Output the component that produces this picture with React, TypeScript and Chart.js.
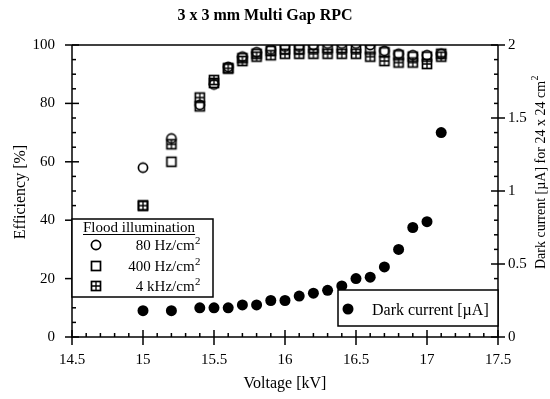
import React, { useEffect, useRef } from 'react';
import { Chart, registerables } from 'chart.js';

Chart.register(...registerables);

// ---- data ----
const voltages = [15.0, 15.2, 15.4, 15.5, 15.6, 15.7, 15.8, 15.9, 16.0, 16.1, 16.2, 16.3, 16.4, 16.5, 16.6, 16.7, 16.8, 16.9, 17.0, 17.1];
const eff80Hz = [58, 68, 79.5, 86.5, 92.5, 96, 97.5, 98.5, 99.5, 99.5, 100, 100.5, 100.5, 100.5, 100, 98, 97, 96.5, 96.5, 97];
const eff400Hz = [45, 60, 79, 87, 92, 95.5, 97, 98, 98.5, 98.5, 99, 99, 99, 99, 98.5, 97.5, 96.5, 96, 96, 97];
const eff4kHz = [45, 66, 82, 88, 92, 94.5, 96, 96.5, 97, 97, 97, 97, 97, 97, 96, 94.5, 94, 94, 93.5, 96];
const darkCurrent = [0.18, 0.18, 0.2, 0.2, 0.2, 0.22, 0.22, 0.25, 0.25, 0.28, 0.3, 0.32, 0.35, 0.4, 0.41, 0.48, 0.6, 0.75, 0.79, 1.4];

const chartTitle = '3 x 3 mm Multi Gap RPC';
const xTitle = 'Voltage [kV]';
const yTitle = 'Efficiency [%]';
const y2Title = 'Dark current [\u00B5A] for 24 x 24 cm';
const floodTitle = 'Flood illumination';
const floodLabels = ['80 Hz/cm', '400 Hz/cm', '4 kHz/cm'];
const darkLabel = 'Dark current [\u00B5A]';

const FONT = '"Liberation Serif", "Times New Roman", serif';

function makeMarker(kind: string): HTMLCanvasElement {
  const c = document.createElement('canvas');
  c.width = 14;
  c.height = 14;
  const ctx = c.getContext('2d')!;
  ctx.strokeStyle = '#000';
  ctx.lineWidth = 1.7;
  if (kind === 'circle') {
    ctx.beginPath();
    ctx.arc(7, 7, 4.6, 0, Math.PI * 2);
    ctx.stroke();
  } else if (kind === 'square') {
    ctx.strokeRect(2.5, 2.5, 9, 9);
  } else {
    ctx.strokeRect(2.5, 2.5, 9, 9);
    ctx.lineWidth = 1.3;
    ctx.beginPath();
    ctx.moveTo(7, 3);
    ctx.lineTo(7, 11);
    ctx.moveTo(3, 7);
    ctx.lineTo(11, 7);
    ctx.stroke();
  }
  return c;
}

function textWithSup(ctx: CanvasRenderingContext2D, base: string, sup: string, xRight: number, y: number, size: number) {
  ctx.font = `${size}px ${FONT}`;
  const wb = ctx.measureText(base).width;
  ctx.font = `${size * 0.72}px ${FONT}`;
  const ws = ctx.measureText(sup).width;
  const x0 = xRight - wb - ws;
  ctx.textAlign = 'left';
  ctx.textBaseline = 'alphabetic';
  ctx.font = `${size}px ${FONT}`;
  ctx.fillText(base, x0, y);
  ctx.font = `${size * 0.72}px ${FONT}`;
  ctx.fillText(sup, x0 + wb + 0.5, y - size * 0.38);
}

const fmt = (v: any) => String(+Number(v).toFixed(2));

const framePlugin = {
  id: 'frame',
  afterDraw(chart: any) {
    const ctx: CanvasRenderingContext2D = chart.ctx;
    const { left, right, top, bottom } = chart.chartArea;
    const xs = chart.scales.x;
    const ys = chart.scales.y;
    const y2s = chart.scales.y2;
    ctx.save();
    ctx.strokeStyle = '#000';
    ctx.fillStyle = '#000';
    ctx.lineWidth = 1.5;
    const line = (x1: number, y1: number, x2: number, y2: number) => {
      ctx.beginPath();
      ctx.moveTo(x1, y1);
      ctx.lineTo(x2, y2);
      ctx.stroke();
    };
    // frame
    line(left, top, right, top);
    line(left, top, left, bottom);
    line(right, top, right, bottom);
    line(left - 1, bottom, right + 1, bottom);
    // x ticks
    for (let i = 0; i <= 30; i++) {
      const v = 14.5 + i * 0.1;
      const px = xs.getPixelForValue(v);
      if (i % 5 === 0) line(px, bottom - 7, px, bottom + 8);
      else line(px, bottom - 4, px, bottom);
    }
    // left ticks
    for (let i = 0; i <= 20; i++) {
      const py = ys.getPixelForValue(i * 5);
      if (i % 4 === 0) line(left - 7, py, left + 7, py);
      else line(left, py, left + 4, py);
    }
    // right ticks
    for (let i = 0; i <= 20; i++) {
      const py = y2s.getPixelForValue(i * 0.1);
      if (i % 5 === 0) line(right - 7, py, right + 7, py);
      else line(right - 4, py, right, py);
    }

    // flood illumination legend
    const bx = left, by = 219, bw = 141, bh = 78;
    ctx.fillStyle = '#fff';
    ctx.fillRect(bx, by, bw, bh);
    ctx.strokeRect(bx, by, bw, bh);
    ctx.fillStyle = '#000';
    ctx.font = `15px ${FONT}`;
    ctx.textAlign = 'left';
    ctx.textBaseline = 'alphabetic';
    ctx.fillText(floodTitle, bx + 11, by + 13);
    const tw = ctx.measureText(floodTitle).width;
    ctx.lineWidth = 1;
    line(bx + 11, by + 15.5, bx + 11 + tw, by + 15.5);
    ctx.lineWidth = 1.5;
    const markers = [makeMarker('circle'), makeMarker('square'), makeMarker('crossed')];
    const rowY = [by + 26, by + 47, by + 67];
    for (let k = 0; k < 3; k++) {
      ctx.drawImage(markers[k], bx + 24 - 7, rowY[k] - 7);
      textWithSup(ctx, floodLabels[k], '2', bx + 128, rowY[k] + 5, 15);
    }

    // dark current legend
    const dx = 338, dy = 290, dw = right - 338, dh = 36;
    ctx.fillStyle = '#fff';
    ctx.fillRect(dx, dy, dw, dh);
    ctx.strokeRect(dx, dy, dw, dh);
    ctx.fillStyle = '#000';
    ctx.beginPath();
    ctx.arc(dx + 10, dy + 19, 5.5, 0, Math.PI * 2);
    ctx.fill();
    ctx.font = `16px ${FONT}`;
    ctx.textAlign = 'left';
    ctx.fillText(darkLabel, dx + 34, dy + 25);

    // titles
    ctx.font = `bold 16px ${FONT}`;
    ctx.textAlign = 'center';
    ctx.textBaseline = 'middle';
    ctx.fillText(chartTitle, 265, 16);

    ctx.font = `16px ${FONT}`;
    ctx.fillText(xTitle, (left + right) / 2, 384);

    ctx.save();
    ctx.translate(21, 192);
    ctx.rotate(-Math.PI / 2);
    ctx.fillText(yTitle, 0, 0);
    ctx.restore();

    ctx.save();
    ctx.translate(541, 172);
    ctx.rotate(-Math.PI / 2);
    ctx.font = `14px ${FONT}`;
    const w2 = ctx.measureText(y2Title).width;
    ctx.textAlign = 'left';
    ctx.fillText(y2Title, -w2 / 2 - 3, 0);
    ctx.font = `10px ${FONT}`;
    ctx.fillText('2', w2 / 2 - 2.5, -6);
    ctx.restore();

    ctx.restore();
  },
};

export default function App() {
  const ref = useRef<HTMLCanvasElement>(null);
  useEffect(() => {
    if (!ref.current) return;
    const pts = (arr: number[]) => voltages.map((v, i) => ({ x: v, y: arr[i] }));
    const tickFont = { family: FONT, size: 15 };
    const chart = new Chart(ref.current, {
      type: 'scatter',
      data: {
        datasets: [
          { label: '4 kHz/cm2', data: pts(eff4kHz), yAxisID: 'y', pointStyle: makeMarker('crossed') as any },
          { label: '400 Hz/cm2', data: pts(eff400Hz), yAxisID: 'y', pointStyle: makeMarker('square') as any },
          { label: '80 Hz/cm2', data: pts(eff80Hz), yAxisID: 'y', pointStyle: makeMarker('circle') as any },
          {
            label: 'Dark current',
            data: pts(darkCurrent),
            yAxisID: 'y2',
            pointStyle: 'circle',
            pointRadius: 5.5,
            backgroundColor: '#000',
            borderColor: '#000',
            borderWidth: 0,
          },
        ],
      },
      options: {
        animation: false,
        responsive: true,
        maintainAspectRatio: false,
        layout: { padding: { top: 45, left: 0, right: 0, bottom: 0 } },
        plugins: {
          legend: { display: false },
          title: { display: false },
          tooltip: { enabled: false },
        },
        scales: {
          x: {
            type: 'linear',
            min: 14.5,
            max: 17.5,
            grid: { display: false, drawTicks: false },
            border: { display: false },
            ticks: { stepSize: 0.5, font: tickFont, color: '#000', padding: 14, maxRotation: 0, autoSkip: false, callback: fmt },
            afterFit: (s: any) => { s.height = 62; },
          },
          y: {
            position: 'left',
            min: 0,
            max: 100,
            grid: { display: false, drawTicks: false },
            border: { display: false },
            ticks: { stepSize: 20, font: tickFont, color: '#000', padding: 17, callback: fmt },
            afterFit: (s: any) => { s.width = 72; },
          },
          y2: {
            position: 'right',
            min: 0,
            max: 2,
            grid: { display: false, drawTicks: false },
            border: { display: false },
            ticks: { stepSize: 0.5, font: tickFont, color: '#000', padding: 10, callback: fmt },
            afterFit: (s: any) => { s.width = 52; },
          },
        },
      } as any,
      plugins: [framePlugin],
    });
    return () => chart.destroy();
  }, []);
  return (
    <div style={{ position: 'absolute', left: 0, top: 0, width: 550, height: 399, background: '#fff' }}>
      <canvas ref={ref} />
    </div>
  );
}
